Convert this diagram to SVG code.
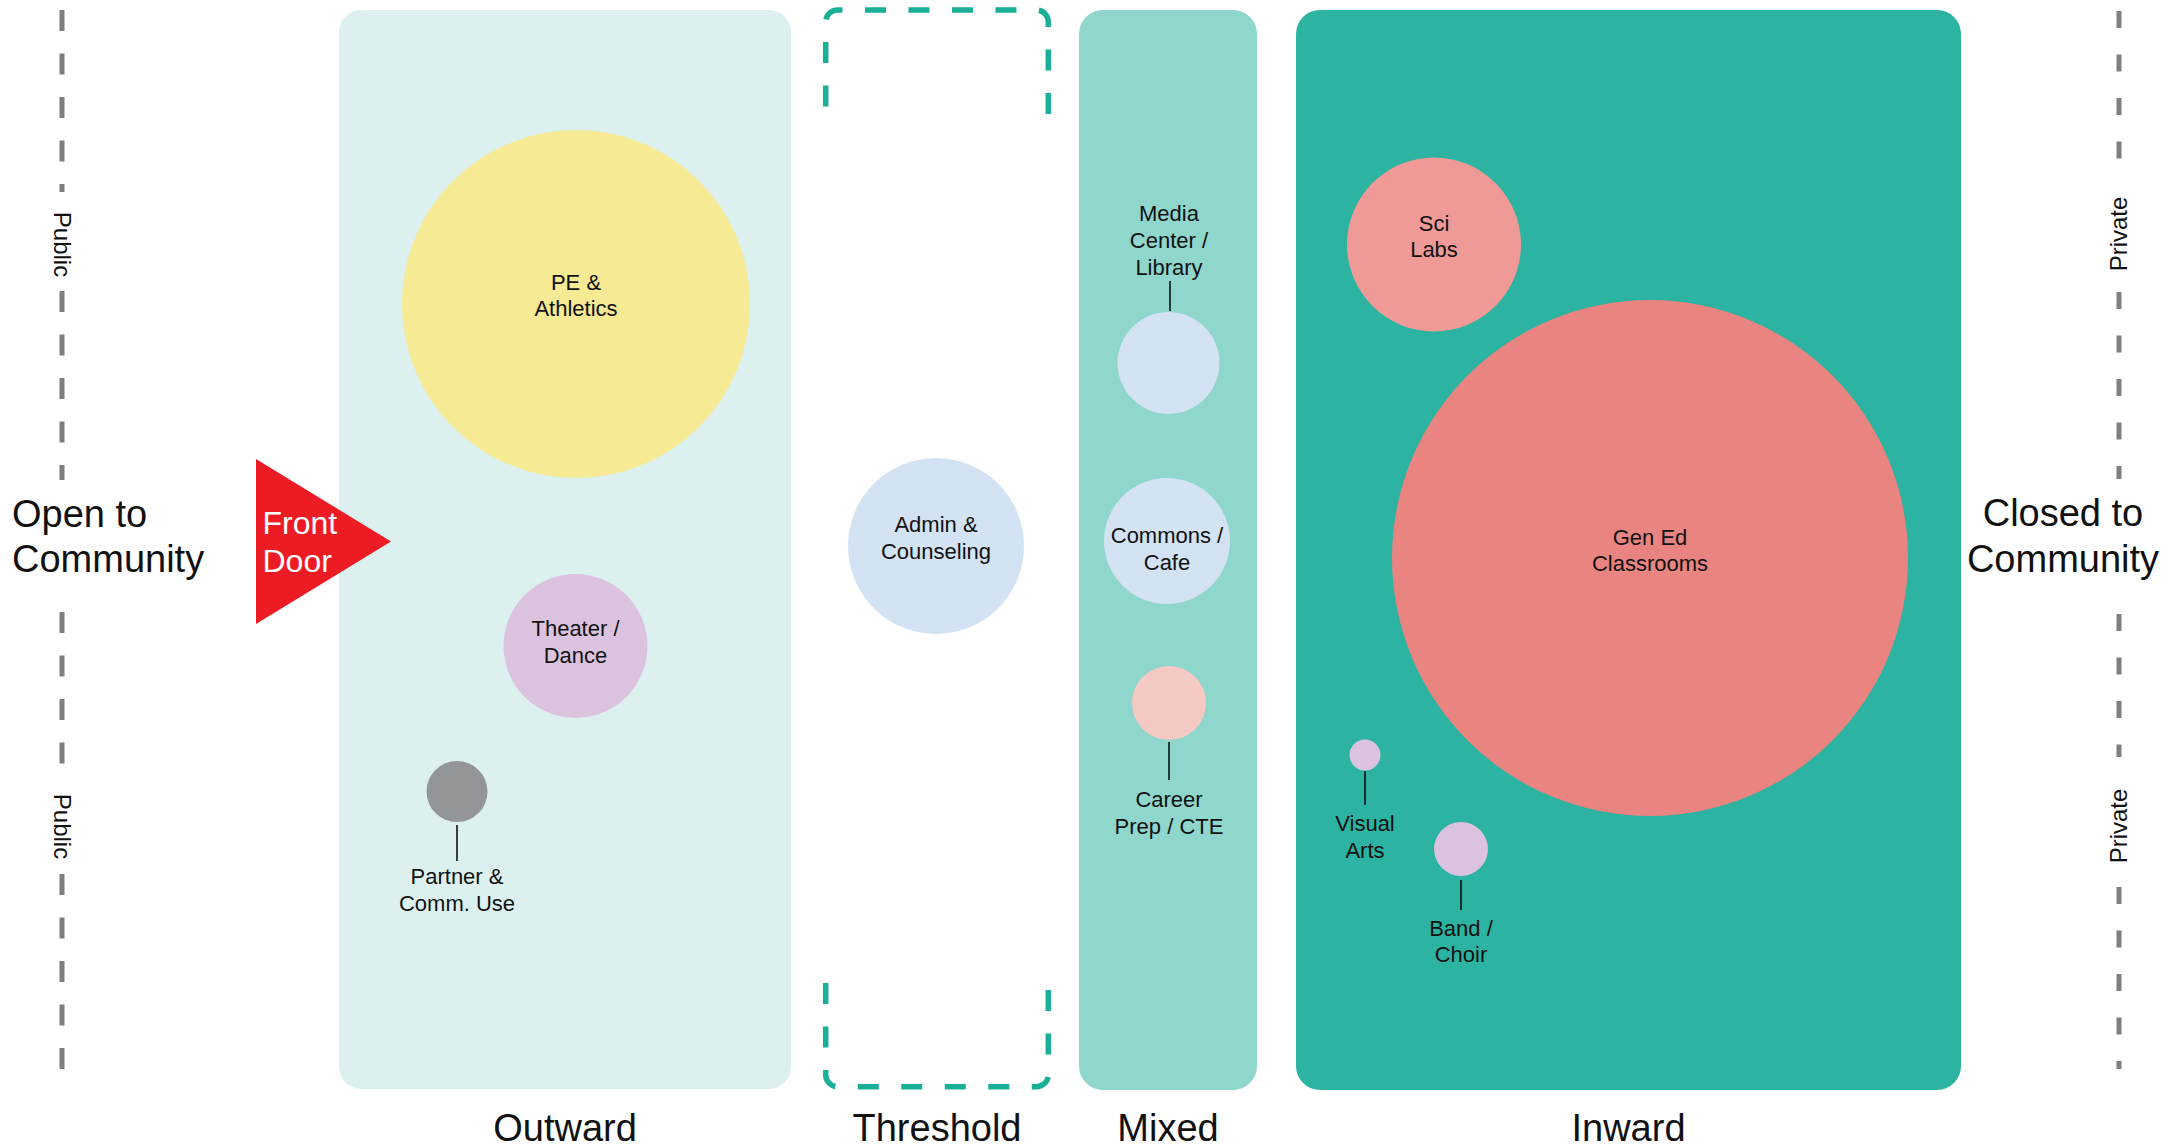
<svg xmlns="http://www.w3.org/2000/svg" width="2180" height="1146" viewBox="0 0 2180 1146">
<style>
text{font-family:"Liberation Sans",Arial,sans-serif;fill:#111;}
.lbl{font-size:22px;text-anchor:middle;}
.big{font-size:38px;}
.zone{font-size:38px;text-anchor:middle;}
.side{font-size:24px;text-anchor:middle;}
.dl{stroke:#7f7f7f;stroke-width:5;fill:none;}
.dl-l{stroke-dasharray:21 22.5;}
.dl-r{stroke-dasharray:17 26.5;}
.leader{stroke:#111;stroke-width:1.6;fill:none;}
.thr{stroke:#1aaf97;stroke-width:5.5;fill:none;stroke-dasharray:21 22.5;}
</style>
<rect width="2180" height="1146" fill="#fff"/>

<g id="axis-left">
<line class="dl dl-l" x1="62" y1="10" x2="62" y2="192"/>
<line class="dl dl-l" x1="62" y1="291" x2="62" y2="480"/>
<line class="dl dl-l" x1="62" y1="612" x2="62" y2="766"/>
<line class="dl dl-l" x1="62" y1="874" x2="62" y2="1070"/>
<text class="side" transform="translate(54,244.5) rotate(90)">Public</text>
<text class="side" transform="translate(54,826.5) rotate(90)">Public</text>
<text class="big" x="12" y="527">Open to</text>
<text class="big" x="12" y="572">Community</text>
</g>

<g id="axis-right">
<line class="dl dl-r" x1="2119" y1="11" x2="2119" y2="159"/>
<line class="dl dl-r" x1="2119" y1="292" x2="2119" y2="479"/>
<line class="dl dl-r" x1="2119" y1="614" x2="2119" y2="757"/>
<line class="dl dl-r" x1="2119" y1="887" x2="2119" y2="1069"/>
<text class="side" transform="translate(2127,234) rotate(-90)">Private</text>
<text class="side" transform="translate(2127,826) rotate(-90)">Private</text>
<text class="big" x="2063" y="526" text-anchor="middle">Closed to</text>
<text class="big" x="2063" y="572" text-anchor="middle">Community</text>
</g>

<g id="zone-outward">
<rect x="339" y="10" width="452" height="1079" rx="22" fill="#dcf1ef"/>
<text class="zone" x="565" y="1141">Outward</text>
</g>
<g id="zone-threshold">
<path class="thr" d="M825.7 106.5 V22 A12 12 0 0 1 837.7 10 H1036.3 A12 12 0 0 1 1048.3 22 V114"/>
<path class="thr" d="M825.7 983 V1074.7 A12 12 0 0 0 837.7 1086.7 H1036.3 A12 12 0 0 0 1048.3 1074.7 V990"/>
<text class="zone" x="937" y="1141">Threshold</text>
</g>
<g id="zone-mixed">
<rect x="1079" y="10" width="178" height="1080" rx="24" fill="#8fd6cc"/>
<text class="zone" x="1168" y="1141">Mixed</text>
</g>
<g id="zone-inward">
<rect x="1296" y="10" width="665" height="1080" rx="24" fill="#2cb3a1"/>
<text class="zone" x="1628.5" y="1141">Inward</text>
</g>

<g id="front-door">
<polygon points="256,459 256,624 391,541.5" fill="#ed1c24"/>
<text x="262.5" y="534" style="font-size:32px;fill:#fff">Front</text>
<text x="262.5" y="572" style="font-size:32px;fill:#fff">Door</text>
</g>

<g id="connectors">
<line class="leader" x1="457" y1="825" x2="457" y2="861"/>
<line class="leader" x1="1170" y1="281" x2="1170" y2="311"/>
<line class="leader" x1="1169" y1="742" x2="1169" y2="780"/>
<line class="leader" x1="1365" y1="771" x2="1365" y2="805"/>
<line class="leader" x1="1461" y1="880" x2="1461" y2="910"/>
</g>

<g id="pe-athletics">
<circle cx="576" cy="304" r="174" fill="#f6ea94"/>
<text class="lbl" x="576" y="289.5">PE &amp;</text>
<text class="lbl" x="576" y="316">Athletics</text>
</g>
<g id="theater-dance">
<circle cx="575.5" cy="646" r="72" fill="#dbc3df"/>
<text class="lbl" x="575.5" y="636">Theater /</text>
<text class="lbl" x="575.5" y="662.5">Dance</text>
</g>
<g id="partner-use">
<circle cx="457" cy="791.5" r="30.5" fill="#939598"/>
<text class="lbl" x="457" y="884">Partner &amp;</text>
<text class="lbl" x="457" y="910.5">Comm. Use</text>
</g>
<g id="admin-counseling">
<circle cx="936" cy="546" r="88" fill="#d3e3f3"/>
<text class="lbl" x="936" y="532">Admin &amp;</text>
<text class="lbl" x="936" y="558.5">Counseling</text>
</g>
<g id="media-center">
<circle cx="1168.5" cy="363" r="51" fill="#d3e3f3"/>
<text class="lbl" x="1169" y="221">Media</text>
<text class="lbl" x="1169" y="248">Center /</text>
<text class="lbl" x="1169" y="274.5">Library</text>
</g>
<g id="commons-cafe">
<circle cx="1167" cy="541" r="63" fill="#d3e3f3"/>
<text class="lbl" x="1167" y="543">Commons /</text>
<text class="lbl" x="1167" y="569.5">Cafe</text>
</g>
<g id="career-prep">
<circle cx="1169" cy="703" r="37" fill="#f5c9c4"/>
<text class="lbl" x="1169" y="807">Career</text>
<text class="lbl" x="1169" y="833.5">Prep / CTE</text>
</g>
<g id="sci-labs">
<circle cx="1434" cy="244.5" r="87" fill="#ef9a97"/>
<text class="lbl" x="1434" y="230.5">Sci</text>
<text class="lbl" x="1434" y="257">Labs</text>
</g>
<g id="gen-ed">
<circle cx="1650" cy="558" r="258" fill="#e98481"/>
<text class="lbl" x="1650" y="544.5">Gen Ed</text>
<text class="lbl" x="1650" y="571">Classrooms</text>
</g>
<g id="visual-arts">
<circle cx="1365" cy="755" r="15.5" fill="#dbc3df"/>
<text class="lbl" x="1365" y="831">Visual</text>
<text class="lbl" x="1365" y="858">Arts</text>
</g>
<g id="band-choir">
<circle cx="1461" cy="849" r="27" fill="#dbc3df"/>
<text class="lbl" x="1461" y="935.5">Band /</text>
<text class="lbl" x="1461" y="962">Choir</text>
</g>
</svg>
